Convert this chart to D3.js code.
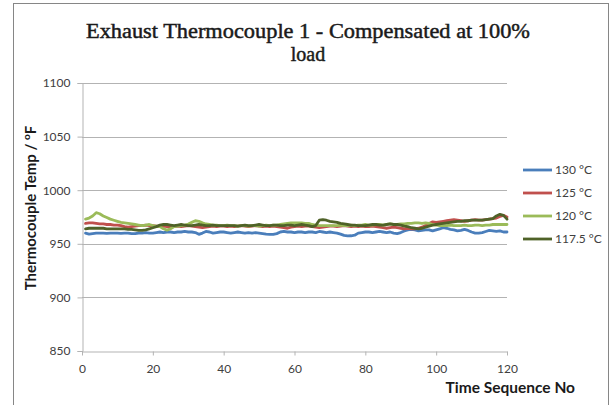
<!DOCTYPE html>
<html>
<head>
<meta charset="utf-8">
<script src="https://cdn.jsdelivr.net/npm/d3@7"></script>
<style>
  body { margin: 0; background: #fff; }
</style>
</head>
<body>
<svg id="chart" width="616" height="405"></svg>
<script>
var xTicks = [0, 20, 40, 60, 80, 100, 120];
var yTicks = [850, 900, 950, 1000, 1050, 1100];
var seriesNames = ["130 °C", "125 °C", "120 °C", "117.5 °C"];

// readings at time sequence 1..120
var s130 = [960, 959, 959.5, 960, 960, 960, 959.8, 960, 960, 960,
  959.8, 960, 960, 959.5, 959.5, 960, 960, 960.5, 960, 960,
  960.5, 961, 960.5, 961, 961, 960.5, 961, 961, 961.5, 961,
  961, 960.5, 958.8, 960, 961.5, 961, 960, 960.5, 961, 961,
  960.5, 960, 960.5, 961, 960.5, 960, 960.5, 960, 960.5, 960,
  959.5, 959, 958.7, 958.7, 959.5, 961, 961.5, 961, 961, 960.5,
  961, 961, 960.5, 961, 961, 960.5, 961.5, 961, 960.5, 961,
  960.5, 960, 959, 957.8, 957.3, 957.5, 958, 960, 960.5, 961,
  961, 960.5, 961, 961.5, 961, 960.5, 961, 960, 959.5, 960.5,
  962, 963, 963.5, 963, 962, 962.5, 963, 963, 962, 963,
  964, 965, 964.5, 963.5, 963, 962, 962.5, 963.5, 962.5, 961,
  960, 960, 960.5, 961.5, 962.5, 962, 961.5, 962, 961, 961];
var s125 = [969, 969.5, 969.5, 969, 968.5, 968.5, 968, 968, 967.5, 967.5,
  967, 966, 965.5, 966, 966.5, 967, 967, 967.5, 967, 967,
  966.5, 966, 966.5, 966, 965.5, 966, 966.5, 966, 966.5, 967,
  966.5, 966, 965.5, 965, 965.5, 966, 966.5, 966, 966.5, 966.5,
  966, 966.5, 966, 966.5, 967, 966.5, 966, 966.5, 967, 966.5,
  966, 966.5, 966, 966.5, 966, 965.5, 965, 964.5, 965.5, 966,
  966.5, 966, 966.5, 966.5, 966, 965.5, 965, 965.5, 966, 966.5,
  966.5, 966, 966.5, 967, 966.5, 966, 966.5, 966, 966.5, 966,
  966, 966.5, 966, 965.5, 965, 964.5, 965, 965.5, 965, 964.5,
  964, 964.5, 964, 964, 964.5, 965.5, 967, 969, 970.5, 970,
  970.5, 971, 971.5, 972, 972.5, 972, 971.5, 971, 971.5, 972,
  972.5, 972, 972, 972.5, 973, 973.5, 974, 975.5, 976.5, 975];
var s120 = [973, 974, 976, 979, 978, 976, 974.5, 973, 972, 971,
  970, 969.5, 969, 968.5, 968, 967.5, 967, 967.5, 968, 967,
  966.5, 966, 964, 962.8, 964, 966, 966.5, 967, 967.5, 968.5,
  970, 971.5, 971, 969.5, 968.5, 968, 967.5, 967.5, 967, 967,
  967.5, 967, 967, 966.5, 967, 967, 966.5, 967, 967, 966.5,
  967, 967.5, 967, 967.5, 967.5, 968, 968.5, 969, 969.5, 969.5,
  969.5, 969.5, 969, 969, 968, 967.5, 967, 967, 967, 967,
  967, 967, 967.5, 967, 967, 967.5, 967, 967.5, 967.5, 968,
  967.5, 967.5, 968, 968, 967.5, 968, 968.5, 968, 968, 968.5,
  968.5, 969, 969, 969.5, 969.5, 969, 969.5, 969, 968, 967.5,
  967, 967, 967, 967.5, 967, 967, 967, 967.5, 967, 967,
  967.5, 967.5, 967, 967.5, 967.5, 968, 968, 968, 968, 968];
var s1175 = [964, 964.5, 964.5, 964.5, 964.5, 964.5, 964, 964, 964, 964,
  964, 964, 963.5, 963.5, 963, 962.5, 962.5, 963, 964, 965,
  966, 967.5, 968, 968, 967.5, 967, 967.5, 968, 967.5, 967,
  967, 967.5, 968, 967.5, 967, 967, 967.5, 967, 967, 967,
  967, 967, 967, 966.5, 967, 967.5, 967, 967, 967.5, 968,
  967.5, 967, 967, 967.5, 967.5, 967, 967, 967.5, 967.5, 967,
  967.5, 968, 967.5, 967, 966, 967, 972, 972.5, 972, 971,
  970.5, 970, 969, 968.5, 968, 967.5, 967.5, 967, 967, 967,
  967.5, 968, 968, 967.5, 967.5, 968, 968.5, 968, 968, 967.5,
  966.5, 966, 965, 964.5, 964, 964.5, 965.5, 966.5, 967.5, 968,
  968.5, 969, 969.5, 970, 970.5, 971, 971, 971.5, 971.5, 972,
  972, 972, 972, 972.5, 973, 973.5, 976, 977.5, 976.5, 973];

var colors = ["#4a7ebb", "#c0504d", "#9bbb59", "#4f6228"];
var allSeries = [s130, s125, s120, s1175];

var svg = d3.select("#chart");
var font = "Lato, 'Open Sans', sans-serif";

// outer chart border
svg.append("rect")
  .attr("x", 13.5).attr("y", 3.5)
  .attr("width", 595).attr("height", 410)
  .attr("fill", "#fff")
  .attr("stroke", "#868686")
  .attr("stroke-width", 1);

var x = d3.scaleLinear().domain([0, 120]).range([82, 507]);
var y = d3.scaleLinear().domain([850, 1100]).range([351, 83]);

// title
var title = svg.append("text")
  .attr("text-anchor", "middle")
  .attr("font-family", "'Liberation Serif', 'DejaVu Serif', serif")
  .attr("font-size", "20px")
  .attr("fill", "#1a1a1a")
  .attr("stroke", "#1a1a1a")
  .attr("stroke-width", 0.45);
title.append("tspan").attr("x", 308).attr("y", 38)
  .attr("textLength", 444).attr("lengthAdjust", "spacingAndGlyphs")
  .text("Exhaust Thermocouple 1 - Compensated at 100%");
title.append("tspan").attr("x", 308).attr("y", 61).text("load");

// gridlines
svg.append("g")
  .selectAll("line")
  .data(yTicks.slice(1))
  .enter().append("line")
  .attr("x1", x(0)).attr("x2", x(120))
  .attr("y1", d => Math.round(y(d)) + 0.5)
  .attr("y2", d => Math.round(y(d)) + 0.5)
  .attr("stroke", "#b3b3b3");

// y axis
var yAxis = svg.append("g")
  .attr("transform", "translate(" + (x(0) + 0.5) + ",0)")
  .call(d3.axisLeft(y).tickValues(yTicks).tickSize(5).tickPadding(7).tickFormat(d3.format("d")));
yAxis.selectAll("path, line").attr("stroke", "#b3b3b3");
yAxis.selectAll("text").attr("font-family", font).attr("font-size", "12px").attr("fill", "#404040");

// x axis
var xAxis = svg.append("g")
  .attr("transform", "translate(0," + (Math.round(y(850)) + 0.5) + ")")
  .call(d3.axisBottom(x).tickValues(xTicks).tickSize(4).tickPadding(9).tickSizeOuter(0));
xAxis.selectAll("path, line").attr("stroke", "#b3b3b3");
xAxis.selectAll("text").attr("font-family", font).attr("font-size", "12px").attr("fill", "#404040");

// series lines
var line = d3.line()
  .x((d, i) => x(i + 1))
  .y(d => y(d));

svg.append("g")
  .selectAll("path")
  .data(allSeries)
  .enter().append("path")
  .attr("d", line)
  .attr("fill", "none")
  .attr("stroke", (d, i) => colors[i])
  .attr("stroke-width", 2.8)
  .attr("stroke-linejoin", "round")
  .attr("stroke-linecap", "round");

// axis titles
var yTitle = svg.append("text")
  .attr("transform", "translate(36,208) rotate(-90)")
  .attr("text-anchor", "middle")
  .attr("font-family", font)
  .attr("font-weight", "bold")
  .attr("font-size", "15px")
  .attr("fill", "#1a1a1a");
yTitle.append("tspan").text("Thermocouple Temp / ");
yTitle.append("tspan").attr("font-size", "10px").attr("dy", -6).text("o");
yTitle.append("tspan").attr("dy", 6).text("F");

svg.append("text")
  .attr("x", 575).attr("y", 393)
  .attr("text-anchor", "end")
  .attr("font-family", font)
  .attr("font-weight", "bold")
  .attr("font-size", "15.5px")
  .attr("fill", "#1a1a1a")
  .text("Time Sequence No");

// legend
var legend = svg.append("g")
  .selectAll("g")
  .data(seriesNames)
  .enter().append("g")
  .attr("transform", (d, i) => "translate(523," + (170 + i * 23) + ")");
legend.append("line")
  .attr("x1", 0).attr("x2", 29)
  .attr("stroke", (d, i) => colors[i])
  .attr("stroke-width", 2.8);
legend.append("text")
  .attr("x", 32).attr("dy", "0.35em")
  .attr("font-family", font)
  .attr("font-size", "12px")
  .attr("fill", "#404040")
  .text(d => d);
</script>
</body>
</html>
